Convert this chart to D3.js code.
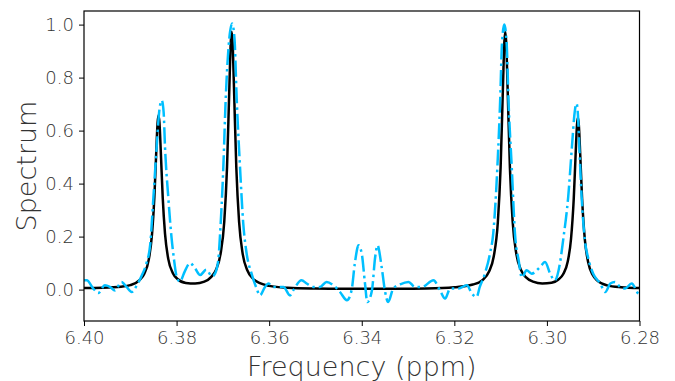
<!DOCTYPE html>
<html>
<head>
<meta charset="utf-8">
<script src="https://cdn.jsdelivr.net/npm/d3@7"></script>
<style>
  body { margin: 0; background: #fff; }
  svg text { font-family: "DejaVu Sans", sans-serif; font-weight: 200; fill: #333; }
</style>
</head>
<body>
<div id="chart"></div>
<script>
////////////////////////////////////////////////////////////
//////////////////////// Data //////////////////////////////
////////////////////////////////////////////////////////////

// Black solid curve (ppm, intensity)
var fitPpm = [6.400, 6.396, 6.392, 6.390, 6.388, 6.387, 6.386, 6.3853, 6.3848, 6.3844, 6.3841, 6.3839,
  6.3837, 6.3834, 6.3830, 6.3825, 6.3818, 6.3808, 6.3798, 6.378, 6.376, 6.374, 6.3725, 6.3715, 6.3705,
  6.3697, 6.3691, 6.3686, 6.3683, 6.3681, 6.3679, 6.3676, 6.3671, 6.3665, 6.3657, 6.3647, 6.3635,
  6.362, 6.360, 6.356, 6.350, 6.344, 6.338, 6.332, 6.326, 6.320, 6.316, 6.314, 6.3125, 6.3115, 6.3106,
  6.3100, 6.3095, 6.3092, 6.3090, 6.3088, 6.3085, 6.3080, 6.3074, 6.3066, 6.3056, 6.3045, 6.303, 6.301,
  6.299, 6.2975, 6.2965, 6.2955, 6.2948, 6.2942, 6.2938, 6.2935, 6.2933, 6.2931, 6.2928, 6.2924, 6.2918,
  6.2911, 6.2901, 6.2891, 6.287, 6.284, 6.280];
var fitVal = [0.006, 0.007, 0.011, 0.017, 0.036, 0.059, 0.114, 0.210, 0.348, 0.516, 0.630, 0.658,
  0.630, 0.517, 0.349, 0.211, 0.116, 0.062, 0.040, 0.025, 0.023, 0.030, 0.048, 0.074, 0.135,
  0.256, 0.463, 0.763, 0.932, 0.973, 0.932, 0.762, 0.462, 0.256, 0.133, 0.072, 0.041,
  0.024, 0.014, 0.007, 0.004, 0.003, 0.003, 0.003, 0.004, 0.0085, 0.019, 0.035, 0.068, 0.124, 0.255,
  0.462, 0.764, 0.934, 0.973, 0.934, 0.765, 0.463, 0.256, 0.134, 0.074, 0.046, 0.030, 0.023,
  0.026, 0.038, 0.058, 0.106, 0.190, 0.344, 0.509, 0.622, 0.649, 0.620, 0.508, 0.343, 0.188,
  0.104, 0.055, 0.034, 0.016, 0.009, 0.006];

// Blue dash-dot curve (ppm, intensity)
var recPpm = [6.4000, 6.3994, 6.3980, 6.3969, 6.3955, 6.3944, 6.3933, 6.3919, 6.3908, 6.3897, 6.3886,
  6.3875, 6.3865, 6.3857, 6.3850, 6.3843, 6.3837, 6.3832, 6.3828, 6.3825, 6.3818, 6.3811, 6.3806,
  6.3800, 6.3793, 6.3782, 6.3771, 6.3760, 6.3749, 6.3736, 6.3723, 6.3717, 6.3710, 6.3706, 6.3699,
  6.3694, 6.3686, 6.3680, 6.3675, 6.3670, 6.3663, 6.3656, 6.3649, 6.3638, 6.3627, 6.3620, 6.3609,
  6.3602, 6.3591, 6.3569, 6.3555, 6.3548, 6.3530, 6.3519, 6.3505, 6.3490, 6.3476, 6.3461, 6.3447,
  6.3432, 6.3422, 6.3415, 6.3407, 6.3400, 6.3393, 6.3388, 6.3378, 6.3371, 6.3366, 6.3357, 6.3350,
  6.3343, 6.3332, 6.3317, 6.3299, 6.3285, 6.3270, 6.3245, 6.3231, 6.3220, 6.3209, 6.3191, 6.3173,
  6.3162, 6.3152, 6.3145, 6.3134, 6.3123, 6.3116, 6.3107, 6.3101, 6.3097, 6.3092, 6.3087, 6.3083,
  6.3076, 6.3069, 6.3061, 6.3054, 6.3044, 6.3033, 6.3015, 6.3004, 6.2993, 6.2983, 6.2972, 6.2965,
  6.2954, 6.2946, 6.2940, 6.2936, 6.2933, 6.2930, 6.2925, 6.2918, 6.2911, 6.2900, 6.2885, 6.2874,
  6.2863, 6.2853, 6.2842, 6.2831, 6.2817, 6.2803, 6.2800];
var recVal = [0.035, 0.035, 0.004, -0.013, 0.016, 0.010, -0.003, 0.029, 0.010, -0.009, 0.016,
  0.054, 0.100, 0.170, 0.350, 0.538, 0.680, 0.714, 0.670, 0.538, 0.350, 0.198, 0.120,
  0.050, 0.030, 0.070, 0.100, 0.080, 0.055, 0.075, 0.050, 0.060, 0.110, 0.211, 0.463,
  0.714, 0.950, 1.004, 0.950, 0.714, 0.463, 0.250, 0.140, 0.060, 0.004, -0.022, 0.010,
  0.023, 0.010, 0.010, -0.022, -0.003, 0.035, 0.023, 0.010, 0.010, 0.029, 0.016, -0.009,
  -0.040, -0.003, 0.098, 0.167, 0.136, 0.023, -0.047, -0.003, 0.123, 0.167, 0.085, -0.003,
  -0.047, 0.004, 0.020, 0.029, 0.010, 0.010, 0.035, -0.003, -0.034, 0.004, 0.004, 0.016,
  -0.015, -0.028, 0.010, 0.060, 0.136, 0.211, 0.463, 0.714, 0.930, 1.000, 0.930, 0.714,
  0.463, 0.211, 0.110, 0.045, 0.073, 0.060, 0.085, 0.104, 0.060, 0.035, 0.098, 0.186,
  0.350, 0.538, 0.670, 0.702, 0.660, 0.538, 0.350, 0.186, 0.120, 0.060, 0.023, -0.009,
  0.023, 0.029, 0.010, 0.004, 0.023, -0.015, -0.020];

var xTicks = [6.40, 6.38, 6.36, 6.34, 6.32, 6.30, 6.28];
var yTicks = [0.0, 0.2, 0.4, 0.6, 0.8, 1.0];

////////////////////////////////////////////////////////////
//////////////////////// Set-up ////////////////////////////
////////////////////////////////////////////////////////////

var W = 675, H = 381;
var margin = { left: 84, top: 11, right: 35.5, bottom: 60 },
    width = W - margin.left - margin.right,
    height = H - margin.top - margin.bottom;

var svg = d3.select("#chart").append("svg")
    .attr("width", W)
    .attr("height", H);

var g = svg.append("g")
    .attr("transform", "translate(" + margin.left + "," + margin.top + ")");

// reversed ppm axis
var x = d3.scaleLinear().domain([6.40, 6.28]).range([0, width]);
var y = d3.scaleLinear().domain([-0.1185, 1.0513]).range([height, 0]);

g.append("clipPath").attr("id", "clip")
  .append("rect").attr("width", width).attr("height", height);

var line = d3.line()
    .x(function (d) { return x(d[0]); })
    .y(function (d) { return y(d[1]); })
    .curve(d3.curveMonotoneX);

var fitData = d3.zip(fitPpm, fitVal);
var recData = d3.zip(recPpm, recVal);

var plot = g.append("g").attr("clip-path", "url(#clip)");

plot.append("path")
    .datum(fitData)
    .attr("d", line)
    .attr("fill", "none")
    .attr("stroke", "#000")
    .attr("stroke-width", 2.5)
    .attr("stroke-linejoin", "round");

plot.append("path")
    .datum(recData)
    .attr("d", line)
    .attr("fill", "none")
    .attr("stroke", "#00bfff")
    .attr("stroke-width", 2.5)
    .attr("stroke-dasharray", "16,4,2.5,4");

////////////////////////////////////////////////////////////
//////////////////////// Axes //////////////////////////////
////////////////////////////////////////////////////////////

var xAxis = g.append("g")
    .attr("transform", "translate(0," + height + ")")
    .call(d3.axisBottom(x).tickValues(xTicks).tickFormat(d3.format(".2f")).tickSizeOuter(0).tickSize(5).tickPadding(5));

var yAxis = g.append("g")
    .call(d3.axisLeft(y).tickValues(yTicks).tickFormat(d3.format(".1f")).tickSizeOuter(0).tickSize(5).tickPadding(5));

[xAxis, yAxis].forEach(function (a) {
  a.select(".domain").remove();
  a.selectAll("line").attr("stroke", "#000").attr("stroke-width", 1);
  a.selectAll("text").style("font-size", "18px").attr("fill", "#333");
});

// frame
g.append("rect")
    .attr("width", width).attr("height", height)
    .attr("fill", "none").attr("stroke", "#000").attr("stroke-width", 1.2);

svg.append("text")
    .attr("x", margin.left + width / 2)
    .attr("y", 376)
    .attr("text-anchor", "middle")
    .style("font-size", "27px")
    .text("Frequency (ppm)");

svg.append("text")
    .attr("transform", "translate(36," + (margin.top + height / 2) + ") rotate(-90)")
    .attr("text-anchor", "middle")
    .style("font-size", "27px")
    .text("Spectrum");
</script>
</body>
</html>
